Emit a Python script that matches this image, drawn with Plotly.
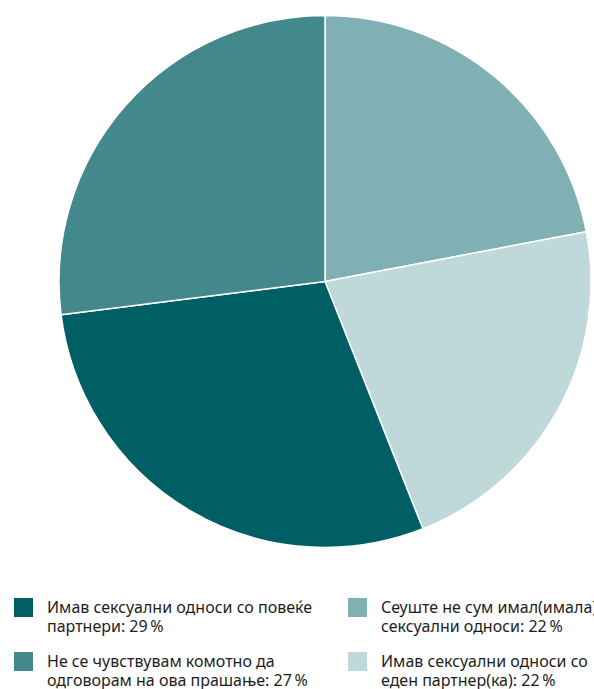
import plotly.graph_objects as go

labels = [
    "Сеуште не сум имал(имала) сексуални односи",
    "Имав сексуални односи со еден партнер(ка)",
    "Имав сексуални односи со повеќе партнери",
    "Не се чувствувам комотно да одговорам на ова прашање",
]
values = [22, 22, 29, 27]
colors = ["#80b0b3", "#bfd8da", "#005f64", "#43898b"]

legend_lines = [
    ["Сеуште не сум имал(имала)", "сексуални односи: 22\u2009%"],
    ["Имав сексуални односи со", "еден партнер(ка): 22\u2009%"],
    ["Имав сексуални односи со повеќе", "партнери: 29\u2009%"],
    ["Не се чувствувам комотно да", "одговорам на ова прашање: 27\u2009%"],
]

W, H = 594, 689


def px(x):
    return x / W


def py(y):
    return 1 - y / H


fig = go.Figure(go.Pie(
    labels=labels, values=values, sort=False, direction="clockwise", rotation=0,
    marker=dict(colors=colors, line=dict(color="white", width=1.5)),
    textinfo="none", showlegend=False,
    domain=dict(x=[px(59), px(591)], y=[py(548), py(15)]),
))

# legend positions (grid: 2 columns), square top-left in page pixels
legend_pos = {2: (14, 598), 0: (348, 598), 3: (14, 652), 1: (348, 652)}
for i, (x0, y0) in legend_pos.items():
    fig.add_shape(type="rect", xref="paper", yref="paper",
                  x0=px(x0), x1=px(x0 + 19), y0=py(y0), y1=py(y0 + 19),
                  fillcolor=colors[i], line=dict(width=0))
    for k, line in enumerate(legend_lines[i]):
        fig.add_annotation(xref="paper", yref="paper", x=px(x0 + 32), y=py(y0 + 9 + 19 * k),
                           xanchor="left", yanchor="middle", align="left", showarrow=False,
                           text=line, borderpad=0,
                           font=dict(family="Noto Sans", size=16, color="#1e1e1e"))

fig.update_layout(width=W, height=H, margin=dict(l=0, r=0, t=0, b=0),
                  paper_bgcolor="white", plot_bgcolor="white")
fig.write_html("out.html", config={"displayModeBar": False},
               post_script="document.body.style.margin='0';document.body.style.overflow='hidden';")
